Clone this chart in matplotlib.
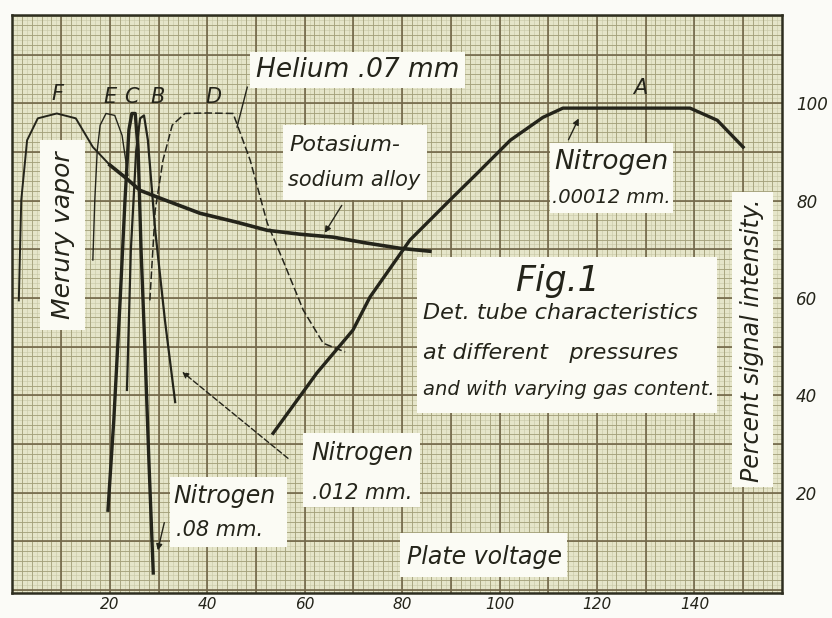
import numpy as np
import matplotlib.pyplot as plt
from matplotlib.patches import Rectangle

# values: x = plate voltage, y = percent signal intensity
# F - mercury vapor, long falling tail
f_x = [1.3, 1.8, 3.0, 5.2, 9.1, 13.0, 16.5, 20.0, 23.1, 26.2, 30.3, 38.5, 45.9, 52.3, 59.0, 65.8, 72.6, 79.6, 85.7]
f_y = [59.5, 80.1, 92.4, 96.9, 97.9, 96.9, 91.0, 87.3, 84.8, 82.1, 80.5, 77.4, 75.6, 73.9, 73.1, 72.5, 71.3, 70.2, 69.6]

# E - thin narrow arch
e_x = [16.5, 16.9, 17.4, 18.0, 19.2, 21.0, 22.5, 23.7]
e_y = [67.8, 80.1, 90.3, 95.5, 97.9, 97.5, 93.4, 85.2]

# C - nitrogen .08 mm
c_x = [19.6, 20.8, 22.1, 23.1, 23.9, 24.5, 25.2, 25.8, 26.4, 27.2, 28.0, 28.9]
c_y = [16.4, 34.9, 59.5, 80.1, 94.5, 97.9, 97.9, 90.3, 69.8, 49.3, 26.7, 3.5]

# B - nitrogen .012 mm
b_x = [23.5, 24.3, 25.4, 26.2, 27.0, 27.8, 29.3, 31.3, 33.4]
b_y = [41.1, 69.8, 90.3, 96.9, 97.5, 92.4, 73.9, 55.4, 38.6]

# D - helium .07 mm
d_x = [28.2, 29.3, 30.9, 32.8, 35.4, 40.0, 45.3, 48.8, 52.3, 55.5, 59.7, 63.8, 68.3]
d_y = [59.5, 78.0, 88.3, 95.5, 97.9, 98.0, 97.9, 88.3, 75.4, 67.8, 57.5, 50.7, 48.9]

# A - nitrogen .00012 mm
a_x = [53.5, 62.5, 69.9, 73.4, 81.6, 89.8, 95.4, 102.2, 108.9, 113.0, 124.7, 139.1, 144.7, 150.0]
a_y = [32.2, 44.6, 53.4, 60.2, 71.9, 80.1, 85.6, 92.4, 97.1, 99.0, 99.0, 99.0, 96.5, 91.0]

x_ticks = [20, 40, 60, 80, 100, 120, 140]
y_ticks = [20, 40, 60, 80, 100]

HAND = ['DejaVu Sans']
INK = '#24241a'
PAPER = '#e5e5c9'
WHITE = '#fbfbf4'


def label_box(ax, x0, y0, w, h):
    ax.add_patch(Rectangle((x0, y0), w, h, facecolor=WHITE, edgecolor='none', zorder=3))


def hand(ax, x, y, s, size=17, **kw):
    ax.text(x, y, s, family=HAND, style='italic', fontsize=size, color=INK, zorder=4, **kw)


def arrow(ax, start, end, ls='-'):
    ax.annotate('', xy=end, xytext=start, zorder=4,
                arrowprops=dict(arrowstyle='-|>', color=INK, lw=1.0, ls=ls, mutation_scale=9))


fig = plt.figure(figsize=(8.32, 6.18), dpi=100)
fig.patch.set_facecolor('#fbfbf7')
ax = fig.add_axes([0.015, 0.0405, 0.925, 0.935])
ax.set_facecolor(PAPER)
ax.set_xlim(0, 158)
ax.set_ylim(-0.6, 118.1)

# graph paper
fine = np.arange(0, 160, 1)
ax.vlines(fine, -2, 120, color='#c8c8a6', lw=0.4, zorder=0)
ax.hlines(fine, 0, 160, color='#c8c8a6', lw=0.4, zorder=0)
minor = np.arange(0, 160, 2)
ax.vlines(minor, -2, 120, color='#a3a07a', lw=0.6, zorder=0)
ax.hlines(minor, 0, 160, color='#a3a07a', lw=0.6, zorder=0)
major = np.arange(0, 160, 10)
ax.vlines(major, -2, 120, color='#72684a', lw=1.2, zorder=0)
ax.hlines(major, 0, 160, color='#72684a', lw=1.2, zorder=0)

# curves
ax.plot(f_x, f_y, color=INK, lw=1.4, zorder=2)
ax.plot(f_x[7:], f_y[7:], color=INK, lw=2.6, zorder=2)
ax.plot(e_x, e_y, color=INK, lw=1.0, zorder=2)
ax.plot(c_x, c_y, color=INK, lw=2.4, zorder=2)
ax.plot(b_x, b_y, color=INK, lw=1.6, zorder=2)
ax.plot(d_x, d_y, color=INK, lw=1.1, ls=(0, (5, 2)), zorder=2)
ax.plot(a_x, a_y, color=INK, lw=2.4, zorder=2)

# curve letters
for s, x, y in [('F', 9.3, 101.8), ('E', 20.0, 101.2), ('C', 24.5, 101.2),
                ('B', 29.7, 101.2), ('D', 41.2, 101.2), ('A', 128.8, 103.1)]:
    hand(ax, x, y, s, size=15, ha='center', va='center')
ax.plot([48.2, 46.1], [103.3, 95.1], color=INK, lw=1.0, zorder=2)

# label boxes
label_box(ax, 48.8, 103.1, 44.1, 7.4)
hand(ax, 70.8, 106.8, 'Helium .07 mm', size=19, ha='center', va='center')

label_box(ax, 55.5, 80.1, 29.6, 15.4)
hand(ax, 56.8, 91.4, 'Potasium-', size=16, ha='left', va='center')
hand(ax, 56.5, 84.2, 'sodium alloy', size=15, ha='left', va='center')
arrow(ax, (67.9, 79.5), (63.8, 72.9))

label_box(ax, 110.4, 77.4, 25.2, 14.4)
hand(ax, 122.9, 87.9, 'Nitrogen', size=19, ha='center', va='center')
hand(ax, 122.9, 80.7, '.00012 mm.', size=14, ha='center', va='center')
arrow(ax, (113.9, 92.0), (116.5, 97.4))

label_box(ax, 83.1, 36.3, 61.6, 32.1)
hand(ax, 111.8, 63.5, 'Fig.1', size=25, ha='center', va='center')
hand(ax, 84.3, 56.9, 'Det. tube characteristics', size=16, ha='left', va='center')
hand(ax, 84.3, 48.7, 'at different   pressures', size=16, ha='left', va='center')
hand(ax, 84.3, 41.1, 'and with varying gas content.', size=14, ha='left', va='center')

label_box(ax, 147.7, 21.1, 8.5, 60.6)
hand(ax, 151.9, 51.4, 'Percent signal intensity.', size=17, rotation=90, ha='center', va='center')

label_box(ax, 5.6, 53.4, 9.3, 39.0)
hand(ax, 10.3, 72.9, 'Merury vapor', size=18, rotation=90, ha='center', va='center')

label_box(ax, 32.3, 8.8, 24.1, 14.4)
hand(ax, 43.6, 19.3, 'Nitrogen', size=17, ha='center', va='center')
hand(ax, 42.6, 12.3, '.08 mm.', size=15, ha='center', va='center')
arrow(ax, (31.3, 14.4), (29.7, 7.6))

label_box(ax, 59.6, 17.0, 24.1, 15.2)
hand(ax, 71.8, 28.1, 'Nitrogen', size=17, ha='center', va='center')
hand(ax, 71.8, 19.9, '.012 mm.', size=15, ha='center', va='center')
arrow(ax, (57.0, 26.7), (34.4, 45.2), ls=(0, (4, 2)))

label_box(ax, 79.6, 2.7, 34.3, 9.0)
hand(ax, 97.0, 6.8, 'Plate voltage', size=17, ha='center', va='center')

# axes frame and tick labels
for side in ['left', 'right', 'top', 'bottom']:
    ax.spines[side].set_color('#2e2e20')
    ax.spines[side].set_linewidth(1.8)
ax.yaxis.tick_right()
ax.set_xticks(x_ticks)
ax.set_yticks(y_ticks)
ax.set_xticklabels([str(v) for v in x_ticks], family=HAND, style='italic', fontsize=11, color=INK)
ax.set_yticklabels([str(v) for v in y_ticks], family=HAND, style='italic', fontsize=12, color=INK)
ax.tick_params(axis='x', length=0, pad=3)
ax.tick_params(axis='y', length=0, pad=10)

fig.savefig('out.png', dpi=100, facecolor=fig.get_facecolor())
